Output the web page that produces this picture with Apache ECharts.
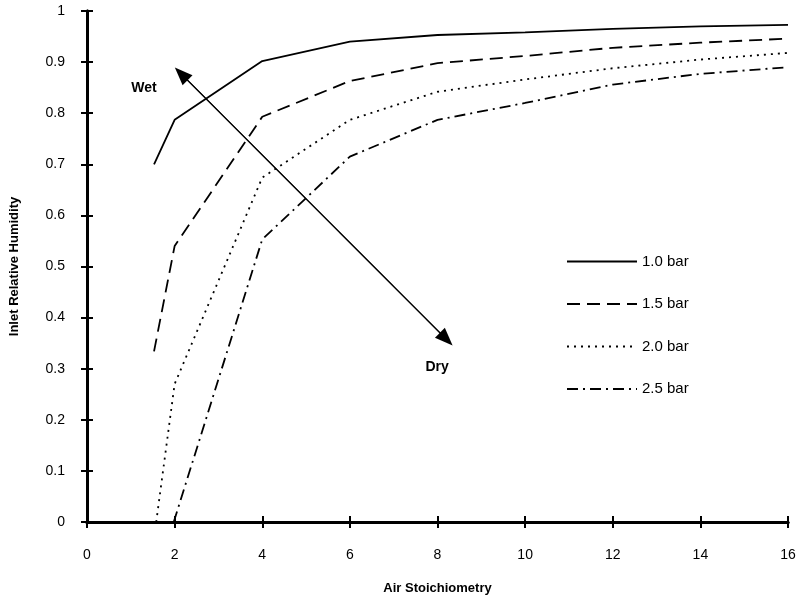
<!DOCTYPE html>
<html><head><meta charset="utf-8">
<script src="https://cdn.jsdelivr.net/npm/echarts@6/dist/echarts.min.js"></script>
<style>html,body{margin:0;padding:0;background:#fff}#c{width:801px;height:600px}</style>
</head><body><div id="c"></div>
<script>
// Data (x = air stoichiometry, y = inlet relative humidity)
const seriesNames = ['1.0 bar', '1.5 bar', '2.0 bar', '2.5 bar'];
const x10 = [1.53, 2, 4, 6, 8, 10, 12, 14, 16];
const y10 = [0.70, 0.787, 0.902, 0.94, 0.953, 0.958, 0.965, 0.970, 0.973];
const x15 = [1.53, 2, 4, 6, 8, 10, 12, 14, 16];
const y15 = [0.334, 0.54, 0.793, 0.863, 0.898, 0.912, 0.928, 0.938, 0.946];
const x20 = [1.58, 2, 4, 6, 8, 10, 12, 14, 16];
const y20 = [0, 0.27, 0.674, 0.787, 0.842, 0.866, 0.888, 0.905, 0.918];
const x25 = [1.98, 4, 6, 8, 10, 12, 14, 16];
const y25 = [0, 0.553, 0.715, 0.787, 0.82, 0.856, 0.877, 0.89];
const arrowStart = [8.2, 0.358];
const arrowEnd = [2.15, 0.877];
const annotations = [{ text: 'Wet', x: 1.3, y: 0.85 }, { text: 'Dry', x: 7.99, y: 0.303 }];
const xTicks = { min: 0, max: 16, interval: 2 };
const yTicks = { min: 0, max: 1, interval: 0.1 };

const pair = (xs, ys) => xs.map((v, i) => [v, ys[i]]);
const styles = [
  { type: 'solid' },
  { type: [13, 7] },
  { type: [2, 5] },
  { type: [11, 5, 2, 5] }
];
const allData = [pair(x10, y10), pair(x15, y15), pair(x20, y20), pair(x25, y25)];

const font = 'Liberation Sans, Arial, sans-serif';
const chart = echarts.init(document.getElementById('c'), null, { renderer: 'canvas' });

const baseAxis = {
  axisLine: { show: true, lineStyle: { color: '#000', width: 3 } },
  axisTick: { show: true, inside: true, length: 6, lineStyle: { color: '#000', width: 2 } },
  splitLine: { show: false }
};

const series = allData.map((d, i) => ({
  name: seriesNames[i],
  type: 'line',
  data: d,
  symbol: 'none',
  clip: true,
  lineStyle: Object.assign({ color: '#000', width: 1.8 }, styles[i]),
  itemStyle: { color: '#000' },
  z: 3
}));

series.push({
  name: 'arrow',
  type: 'line',
  data: [],
  silent: true,
  markLine: {
    silent: true,
    symbol: ['none', 'triangle'],
    symbolSize: [14, 18],
    lineStyle: { color: '#000', width: 1.2, type: 'solid' },
    label: { show: false },
    data: [[{ coord: arrowStart }, { coord: arrowEnd }], [{ coord: arrowEnd }, { coord: arrowStart }]]
  }
});

series.push({
  name: 'notes',
  type: 'scatter',
  data: annotations.map(a => ({ value: [a.x, a.y], name: a.text })),
  symbolSize: 1,
  silent: true,
  itemStyle: { color: '#fff', opacity: 1 },
  label: { show: true, position: 'inside', formatter: p => p.name, color: '#000', opacity: 1,
    fontFamily: font, fontSize: 14, fontWeight: 'bold' }
});

chart.setOption({
  animation: false,
  backgroundColor: '#fff',
  grid: { left: 85, right: 13, top: 11, bottom: 77 },
  legend: {
    orient: 'vertical',
    left: 561,
    top: 249,
    itemWidth: 70,
    itemHeight: 14,
    itemGap: 27.5,
    data: seriesNames,
    itemStyle: { opacity: 0 },
    textStyle: { fontFamily: font, fontSize: 15, color: '#000' },
    selectedMode: false
  },
  xAxis: [
    Object.assign({}, baseAxis, {
      type: 'value', min: xTicks.min, max: xTicks.max, interval: xTicks.interval,
      name: 'Air Stoichiometry', nameLocation: 'middle', nameGap: 60,
      nameTextStyle: { fontFamily: font, fontSize: 13, fontWeight: 'bold', color: '#000' },
      axisLabel: { margin: 26, fontFamily: font, fontSize: 14, color: '#000' }
    }),
    Object.assign({}, baseAxis, {
      type: 'value', position: 'top', min: xTicks.min, max: xTicks.max, interval: xTicks.interval,
      axisLabel: { show: false }
    })
  ],
  yAxis: [
    Object.assign({}, baseAxis, {
      type: 'value', min: yTicks.min, max: yTicks.max, interval: yTicks.interval,
      name: 'Inlet Relative Humidity', nameLocation: 'middle', nameGap: 66, nameRotate: 90,
      nameTextStyle: { fontFamily: font, fontSize: 13, fontWeight: 'bold', color: '#000' },
      axisLabel: { margin: 22, fontFamily: font, fontSize: 14, color: '#000',
        formatter: v => (Math.round(v * 10) / 10).toString() }
    }),
    Object.assign({}, baseAxis, {
      type: 'value', position: 'right', min: yTicks.min, max: yTicks.max, interval: yTicks.interval,
      axisLabel: { show: false }
    })
  ],
  series: series
});
</script></body></html>
